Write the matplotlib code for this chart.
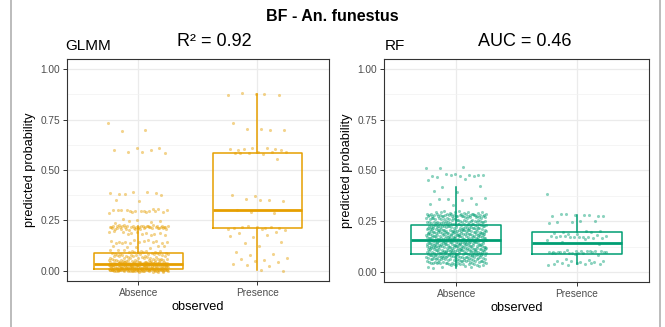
import numpy as np
import matplotlib.pyplot as plt
from matplotlib.lines import Line2D

plt.rcParams['font.family'] = ['Liberation Sans', 'DejaVu Sans']

categories = ['Absence', 'Presence']

# jittered predictions, given as (value, count) pairs
glmm_abs_vals = [0.74, 0.70, 0.69, 0.61, 0.605, 0.60, 0.585, 0.385, 0.375, 0.35,
                 0.30, 0.29, 0.25, 0.24, 0.22, 0.21, 0.19, 0.18, 0.15, 0.14, 0.12,
                 0.10, 0.09, 0.08, 0.07, 0.06, 0.05, 0.04, 0.035, 0.03, 0.02, 0.01,
                 0.005, 0.0]
glmm_abs_cnt = [1, 1, 1, 1, 2, 1, 3, 6, 1, 2,
                14, 3, 3, 3, 30, 15, 8, 4, 6, 8, 6,
                8, 10, 12, 10, 12, 15, 30, 30, 30, 35, 40,
                40, 20]
glmm_pre_vals = [0.875, 0.74, 0.70, 0.605, 0.595, 0.585, 0.55, 0.375, 0.355, 0.35,
                 0.30, 0.29, 0.215, 0.205, 0.19, 0.175, 0.14, 0.13, 0.095, 0.08,
                 0.06, 0.05, 0.03, 0.025, 0.005]
glmm_pre_cnt = [5, 1, 4, 6, 2, 6, 1, 2, 2, 2,
                1, 2, 8, 2, 2, 3, 2, 1, 1, 2,
                3, 2, 1, 2, 2]
rf_abs_vals = [0.52, 0.51, 0.48, 0.47, 0.455, 0.42, 0.40, 0.36, 0.33, 0.30, 0.29,
               0.28, 0.27, 0.26, 0.25, 0.24, 0.23, 0.22, 0.21, 0.20, 0.19, 0.18,
               0.17, 0.16, 0.15, 0.14, 0.13, 0.12, 0.11, 0.10, 0.09, 0.08, 0.07,
               0.06, 0.05, 0.04, 0.03, 0.02]
rf_abs_cnt = [2, 1, 6, 4, 2, 2, 2, 5, 3, 4, 8,
              30, 12, 14, 16, 16, 18, 20, 20, 22, 22, 22,
              22, 22, 22, 22, 22, 22, 22, 22, 20, 20, 18,
              18, 16, 14, 6, 2]
rf_pre_vals = [0.39, 0.28, 0.25, 0.24, 0.20, 0.19, 0.175, 0.17, 0.16, 0.14,
               0.10, 0.095, 0.09, 0.06, 0.05, 0.04]
rf_pre_cnt = [1, 8, 3, 2, 3, 4, 10, 3, 2, 2,
              14, 6, 3, 3, 4, 8]

# box statistics: whislo, q1, median, q3, whishi
glmm_box = [[0.0, 0.008, 0.033, 0.09, 0.22],
            [0.005, 0.215, 0.302, 0.585, 0.875]]
rf_box = [[0.02, 0.09, 0.158, 0.232, 0.42],
          [0.04, 0.09, 0.14, 0.197, 0.28]]

panels = [
    ('GLMM', 'R\u00b2 = 0.92', '#E69F00', glmm_box,
     [(glmm_abs_vals, glmm_abs_cnt), (glmm_pre_vals, glmm_pre_cnt)]),
    ('RF', 'AUC = 0.46', '#009E73', rf_box,
     [(rf_abs_vals, rf_abs_cnt), (rf_pre_vals, rf_pre_cnt)]),
]

fig = plt.figure(figsize=(6.65, 3.27), dpi=100)
fig.patch.set_facecolor('white')

axes_pos = [[0.1003, 0.1407, 0.3944, 0.679], [0.5774, 0.1376, 0.3985, 0.682]]
label_x = [0.098, 0.579]
stat_x = [177 / 665, 478 / 665]

for i, (name, stat, col, box, pts) in enumerate(panels):
    ax = fig.add_axes(axes_pos[i])
    ax.set_ylim(-0.05, 1.05)
    ax.set_yticks([0, 0.25, 0.5, 0.75, 1.0])
    ax.set_yticklabels(['0.00', '0.25', '0.50', '0.75', '1.00'])
    ax.set_yticks([0.125, 0.375, 0.625, 0.875], minor=True)
    ax.grid(True, which='major', color='#EBEBEB', lw=0.9)
    ax.grid(True, which='minor', axis='y', color='#F2F2F2', lw=0.5)
    ax.set_axisbelow(True)
    for s in ax.spines.values():
        s.set_color('#333333')
        s.set_linewidth(0.8)

    # geom_jitter style spread: horizontal +-0.25 and a hair of vertical
    for j, (vals, cnt) in enumerate(pts):
        y = np.repeat(vals, cnt)
        k = np.arange(len(y))
        xoff = ((k * 0.6180339887) % 1 - 0.5) * 0.5
        yoff = ((k * 0.4142135624) % 1 - 0.5) * 0.012
        ax.scatter(j + 1 + xoff, y + yoff, s=5, color=col, alpha=0.45, lw=0,
                   zorder=2)

    stats = []
    for b in box:
        stats.append(dict(whislo=b[0], q1=b[1], med=b[2], q3=b[3], whishi=b[4],
                          fliers=[]))
    ax.bxp(stats, positions=[1, 2], widths=0.75, showcaps=False,
           boxprops=dict(color=col, lw=1.1),
           whiskerprops=dict(color=col, lw=1.1),
           medianprops=dict(color=col, lw=2.0), zorder=3)
    ax.set_xticks([1, 2])
    ax.set_xticklabels(categories)
    ax.set_xlim(0.4, 2.6)
    ax.tick_params(which='major', length=3, width=0.7, color='#333333',
                   labelsize=7.3, labelcolor='#4D4D4D', pad=2)
    ax.tick_params(which='minor', length=0)

    ax.set_xlabel('observed', fontsize=9.2, labelpad=2)
    ax.set_ylabel('predicted probability', fontsize=9.2, labelpad=3)

    fig.text(label_x[i], 1 - 50 / 327, name, fontsize=11, ha='left',
             va='baseline')
    fig.text(stat_x[i], 1 - 46 / 327, stat, fontsize=13, ha='left',
             va='baseline')

fig.text(0.5, 1 - 21 / 327, 'BF - An. funestus', fontsize=11.5,
         fontweight='bold', ha='center', va='baseline')

fig.add_artist(Line2D([11 / 665, 11 / 665], [0, 1], color='#B0B0B0', lw=1.2))
fig.add_artist(Line2D([660 / 665, 660 / 665], [0, 1], color='#B0B0B0', lw=1.2))

fig.savefig('out.png', dpi=100)
